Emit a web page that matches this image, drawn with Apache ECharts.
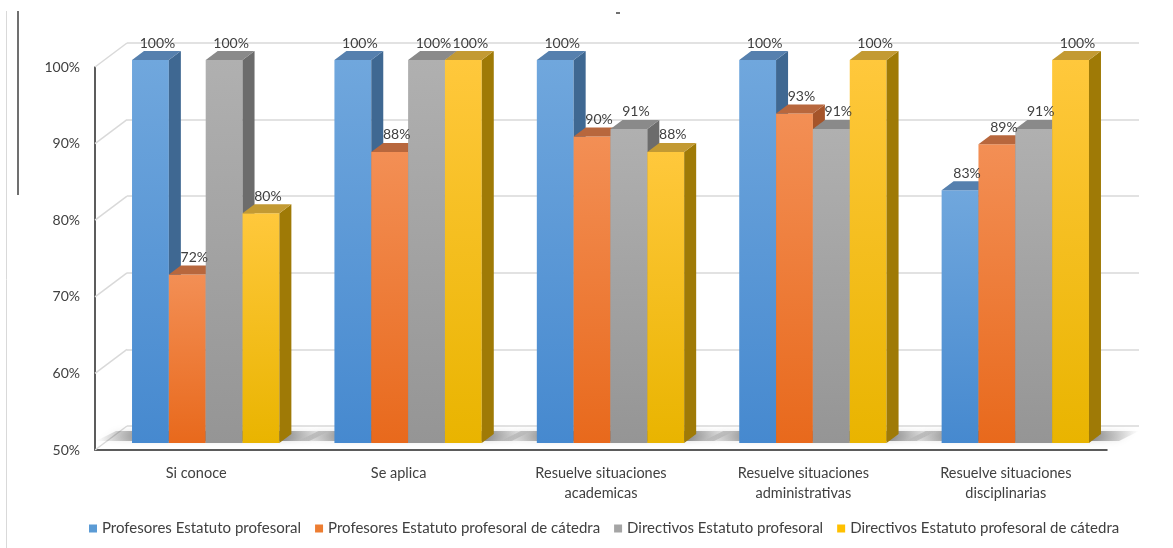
<!DOCTYPE html>
<html style="height: 100%">
<head>
    <meta charset="utf-8">
    <script src="https://cdn.jsdelivr.net/npm/echarts@6/dist/echarts.min.js"></script>
</head>
<body style="height: 100%; margin: 0; background: #fff">
<div id="main" style="width: 1173px; height: 548px"></div>
<script type="text/javascript">
var categories = ['Si conoce', 'Se aplica', 'Resuelve situaciones\nacademicas',
    'Resuelve situaciones\nadministrativas', 'Resuelve situaciones\ndisciplinarias'];
var seriesNames = ['Profesores Estatuto profesoral', 'Profesores Estatuto profesoral de cátedra',
    'Directivos Estatuto profesoral', 'Directivos Estatuto profesoral de cátedra'];
var profEstatuto = [100, 100, 100, 100, 83];
var profCatedra = [72, 88, 90, 93, 89];
var dirEstatuto = [100, 100, 91, 91, 91];
var dirCatedra = [80, 100, 88, 100, 100];
var yTicks = [50, 60, 70, 80, 90, 100];

var allValues = [profEstatuto, profCatedra, dirEstatuto, dirCatedra];

// colores estilo Office (frente arriba, frente abajo, lado, tapa)
var legendColors = ['#5b9bd5', '#ed7d31', '#a5a5a5', '#ffc000'];
var faces = [
    {top: '#70a7dd', bottom: '#4689cf', side: '#3f6892', cap: '#5680ae'},
    {top: '#f38f55', bottom: '#e8691c', side: '#a5542a', cap: '#b8673d'},
    {top: '#b0b0b0', bottom: '#959595', side: '#6c6c6c', cap: '#8a8a8a'},
    {top: '#ffc83c', bottom: '#e9b400', side: '#9f7a06', cap: '#c39a33'}
];
var DX = 12, DY = -9;     // profundidad de cada barra
var WX = 32, WY = -24;    // profundidad del piso / pared
var FONT = 'Lato';

var dom = document.getElementById('main');
var myChart = echarts.init(dom);

function barRender(s) {
    return function (params, api) {
        var idx = api.value(0), v = api.value(1);
        var top = api.coord([idx, v]);
        var bot = api.coord([idx, 50]);
        var band = api.size([1, 0])[0];
        var bw = band * 0.728 / 4;
        var x0 = top[0] - 2 * bw + s * bw;
        var f = faces[s];
        return {
            type: 'group',
            children: [{
                type: 'rect',
                z2: s * 4,
                shape: {x: x0, y: top[1], width: bw, height: bot[1] - top[1]},
                style: {fill: new echarts.graphic.LinearGradient(0, 0, 0, 1, [
                    {offset: 0, color: f.top}, {offset: 1, color: f.bottom}])}
            }, {
                type: 'polygon',
                z2: s * 4 + 1,
                shape: {points: [[x0 + bw, top[1]], [x0 + bw + DX, top[1] + DY],
                    [x0 + bw + DX, bot[1] + DY], [x0 + bw, bot[1]]]},
                style: {fill: f.side}
            }, {
                type: 'polygon',
                z2: s * 4 + 2,
                shape: {points: [[x0, top[1]], [x0 + DX, top[1] + DY],
                    [x0 + bw + DX, top[1] + DY], [x0 + bw, top[1]]]},
                style: {fill: f.cap}
            }, {
                type: 'text',
                z2: 100,
                style: {
                    text: v + '%', x: x0 + bw / 2 + 7, y: top[1] + DY - 8,
                    align: 'center', verticalAlign: 'middle',
                    fill: '#404040', font: '14px ' + FONT
                }
            }]
        };
    };
}

var series = [];
// lineas diagonales de la pared izquierda y piso
series.push({
    type: 'custom', xAxisIndex: 2, yAxisIndex: 2, silent: true, z: 1,
    data: yTicks.map(function (t) { return [0, t]; }),
    renderItem: function (params, api) {
        var cs = params.coordSys;
        var y = api.coord([0, api.value(1)])[1];
        return {
            type: 'line',
            shape: {x1: cs.x, y1: y, x2: cs.x + WX, y2: y + WY},
            style: {stroke: '#d9d9d9', lineWidth: 1.5}
        };
    }
});
// sombras del piso
series.push({
    type: 'custom', xAxisIndex: 0, yAxisIndex: 0, silent: true, z: 1,
    data: categories.map(function (c, i) { return [i, 50]; }),
    renderItem: function (params, api) {
        var p = api.coord([api.value(0), 50]);
        var band = api.size([1, 0])[0];
        var gl = p[0] - band * 0.364, gr = p[0] + band * 0.364;
        return {
            type: 'polygon',
            shape: {points: [[gl - 36, p[1] - 2], [gr + 30, p[1] - 2], [gr + 50, p[1] - 12], [gl - 16, p[1] - 12]]},
            style: {
                fill: new echarts.graphic.LinearGradient(0, 0, 1, 0, [
                    {offset: 0, color: 'rgba(90,90,90,0)'},
                    {offset: 0.2, color: 'rgba(70,70,70,0.55)'},
                    {offset: 0.8, color: 'rgba(70,70,70,0.55)'},
                    {offset: 1, color: 'rgba(90,90,90,0)'}]),
                shadowBlur: 6, shadowColor: 'rgba(0,0,0,0.25)'
            }
        };
    }
});
allValues.forEach(function (vals, s) {
    series.push({
        name: seriesNames[s],
        type: 'custom',
        xAxisIndex: 0, yAxisIndex: 0,
        z: 3,
        color: legendColors[s],
        renderItem: barRender(s),
        data: vals.map(function (v, i) { return [i, v]; })
    });
});

var option = {
    animation: false,
    textStyle: {fontFamily: FONT},
    legend: {
        bottom: 7,
        left: 84,
        icon: 'rect',
        itemWidth: 8,
        itemHeight: 8,
        itemGap: 14,
        textStyle: {fontSize: 15, color: '#404040', fontFamily: FONT},
        data: seriesNames
    },
    grid: [
        {left: 104.5, right: 56.5, top: 60, bottom: 105},   // plano de barras
        {left: 127, right: 34, top: 43, bottom: 122},       // pared del fondo
        {left: 95, right: 66, top: 67, bottom: 98}          // plano frontal
    ],
    xAxis: [
        {gridIndex: 0, type: 'category', data: categories, show: false},
        {gridIndex: 1, type: 'value', show: false},
        {gridIndex: 2, type: 'category', data: categories,
            axisLine: {lineStyle: {color: '#262626', width: 1.5}},
            axisTick: {show: false},
            axisLabel: {color: '#404040', fontSize: 14.5, margin: 13, lineHeight: 20, fontFamily: FONT}}
    ],
    yAxis: [
        {gridIndex: 0, type: 'value', min: 50, max: 100, interval: 10, show: false},
        {gridIndex: 1, type: 'value', min: 50, max: 100, interval: 10,
            axisLabel: {show: false}, axisLine: {show: false}, axisTick: {show: false},
            splitLine: {lineStyle: {color: '#d9d9d9', width: 1.5}}},
        {gridIndex: 2, type: 'value', min: 50, max: 100, interval: 10,
            splitLine: {show: false},
            axisLine: {show: true, lineStyle: {color: '#262626', width: 1.5}},
            axisTick: {show: false},
            axisLabel: {formatter: '{value}%', color: '#404040', fontSize: 14, margin: 15, fontFamily: FONT}}
    ],
    graphic: [
        {type: 'line', shape: {x1: 6.5, y1: 11, x2: 6.5, y2: 548}, style: {stroke: '#d9d9d9', lineWidth: 1}},
        {type: 'line', shape: {x1: 18, y1: 11, x2: 18, y2: 195}, style: {stroke: '#404040', lineWidth: 1.5}},
        {type: 'line', shape: {x1: 616, y1: 13, x2: 620, y2: 13}, style: {stroke: '#404040', lineWidth: 1.5}}
    ],
    series: series
};

myChart.setOption(option);
</script>
</body>
</html>
